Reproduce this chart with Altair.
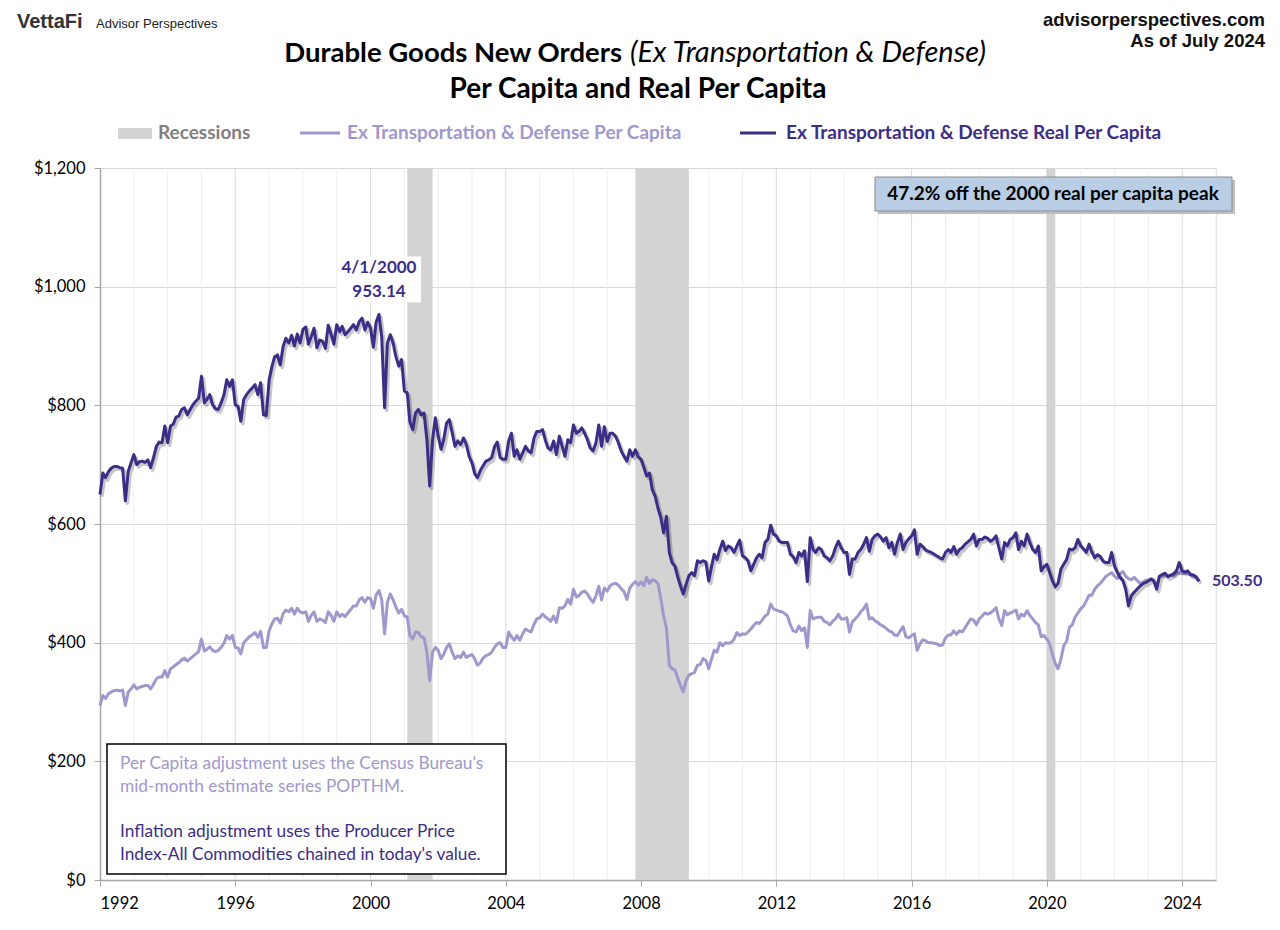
import altair as alt
import pandas as pd

# ---------------- data ----------------
START_MONTH = "1992-01-01"
END_MONTH = "2024-07-01"

# Ex Transportation & Defense Real Per Capita (monthly, 1992-01 .. 2024-07)
REAL = [
    650, 686, 678, 688, 694, 697, 697, 695, 694, 639, 689, 703,   # 1992
    717, 700, 705, 706, 704, 708, 695, 712, 731, 738, 737, 765,   # 1993
    737, 765, 768, 780, 782, 793, 796, 784, 793, 801, 807, 812,   # 1994
    849, 804, 810, 818, 801, 794, 793, 804, 818, 843, 832, 843,   # 1995
    801, 798, 773, 810, 818, 824, 829, 835, 818, 838, 784, 783,   # 1996
    843, 866, 882, 885, 868, 899, 913, 905, 918, 900, 920, 905,   # 1997
    928, 932, 903, 916, 930, 897, 910, 908, 896, 935, 920, 903,   # 1998
    936, 924, 933, 919, 924, 930, 936, 927, 941, 947, 927, 940,   # 1999
    930, 898, 940, 953.14, 915, 796, 905, 919, 905, 882, 866, 877,  # 2000
    824, 821, 772, 759, 787, 793, 784, 787, 742, 664, 742, 779,   # 2001
    748, 726, 742, 770, 776, 754, 731, 740, 734, 745, 734, 714,   # 2002
    703, 684, 678, 690, 698, 706, 708, 712, 730, 738, 712, 709,   # 2003
    709, 740, 753, 714, 725, 709, 720, 731, 723, 720, 745, 756,   # 2004
    756, 759, 742, 728, 725, 740, 717, 748, 731, 714, 742, 737,   # 2005
    767, 753, 756, 762, 753, 742, 728, 723, 737, 767, 731, 764,   # 2006
    739, 753, 753, 748, 737, 723, 714, 706, 725, 714, 725, 713,   # 2007
    709, 695, 681, 686, 658, 647, 627, 611, 585, 613, 552, 535,   # 2008
    529, 510, 496, 482, 498, 513, 518, 513, 538, 535, 538, 536,   # 2009
    504, 529, 549, 540, 557, 571, 555, 563, 560, 552, 563, 573,   # 2010
    546, 543, 538, 521, 532, 543, 549, 543, 569, 574, 598, 583,   # 2011
    580, 571, 569, 569, 569, 549, 545, 535, 552, 546, 555, 503,   # 2012
    577, 557, 552, 560, 557, 546, 543, 538, 546, 560, 571, 560,   # 2013
    552, 552, 515, 541, 541, 552, 557, 566, 577, 554, 574, 580,   # 2014
    583, 578, 571, 577, 560, 569, 549, 569, 583, 557, 569, 575,   # 2015
    580, 590, 549, 566, 562, 556, 554, 552, 549, 546, 543, 541,   # 2016
    552, 557, 552, 562, 549, 557, 560, 566, 570, 574, 583, 563,   # 2017
    574, 574, 578, 576, 571, 574, 580, 560, 541, 569, 563, 574,   # 2018
    577, 585, 557, 571, 563, 583, 569, 557, 552, 563, 521, 528,   # 2019
    532, 518, 504, 494, 500, 524, 532, 540, 558, 556, 560, 574,   # 2020
    563, 558, 552, 566, 553, 543, 548, 545, 537, 535, 535, 552,   # 2021
    529, 518, 510, 505, 490, 462, 479, 485, 490, 495, 499, 501,   # 2022
    504, 507, 504, 490, 512, 515, 517, 511, 514, 516, 521, 535,   # 2023
    521, 519, 521, 515, 514, 511, 503.5,                          # 2024
]

# Ex Transportation & Defense Per Capita (nominal, monthly)
NOMINAL = [
    294, 311, 306, 314, 317, 319, 320, 319, 320, 294, 317, 322,   # 1992
    329, 322, 325, 326, 328, 328, 322, 330, 339, 342, 342, 353,   # 1993
    342, 356, 359, 363, 366, 371, 374, 369, 373, 377, 381, 385,   # 1994
    406, 386, 389, 393, 387, 385, 387, 392, 399, 412, 406, 412,   # 1995
    392, 391, 381, 400, 405, 410, 413, 417, 409, 419, 392, 392,   # 1996
    420, 432, 440, 441, 433, 449, 455, 452, 458, 448, 458, 452,   # 1997
    450, 452, 436, 446, 452, 436, 440, 438, 434, 452, 446, 436,   # 1998
    452, 444, 448, 444, 450, 456, 462, 462, 472, 476, 468, 476,   # 1999
    474, 458, 480, 488, 472, 415, 468, 482, 472, 460, 450, 456,   # 2000
    445, 443, 412, 406, 418, 417, 410, 408, 384, 336, 384, 392,   # 2001
    387, 373, 380, 392, 398, 384, 373, 378, 375, 384, 375, 378,   # 2002
    380, 372, 362, 366, 374, 378, 380, 384, 392, 398, 400, 392,   # 2003
    392, 418, 410, 404, 412, 404, 415, 423, 420, 418, 431, 440,   # 2004
    442, 448, 444, 440, 436, 445, 434, 459, 458, 462, 473, 465,   # 2005
    490, 477, 479, 485, 487, 482, 474, 468, 479, 495, 472, 492,   # 2006
    487, 496, 499, 500, 497, 491, 486, 473, 492, 498, 503, 497,   # 2007
    502, 496, 510, 500, 506, 504, 500, 475, 445, 425, 362, 356,   # 2008
    354, 340, 328, 317, 336, 345, 348, 350, 362, 363, 373, 370,   # 2009
    356, 373, 387, 384, 400, 395, 400, 399, 400, 406, 417, 412,   # 2010
    415, 414, 418, 423, 429, 434, 432, 438, 445, 448, 465, 457,   # 2011
    455, 453, 452, 449, 445, 430, 420, 418, 428, 420, 425, 392,   # 2012
    454, 440, 442, 443, 443, 436, 434, 430, 436, 440, 448, 440,   # 2013
    440, 442, 418, 435, 440, 445, 452, 457, 465, 440, 442, 437,   # 2014
    434, 430, 428, 424, 420, 418, 413, 412, 420, 427, 410, 408,   # 2015
    412, 415, 387, 398, 405, 403, 400, 400, 399, 398, 395, 396,   # 2016
    408, 413, 413, 420, 414, 420, 418, 425, 433, 440, 438, 430,   # 2017
    440, 445, 450, 448, 450, 454, 459, 440, 429, 454, 447, 450,   # 2018
    452, 455, 440, 448, 445, 454, 446, 440, 434, 430, 410, 412,   # 2019
    406, 398, 380, 365, 356, 372, 395, 402, 426, 430, 443, 450,   # 2020
    457, 462, 470, 480, 480, 490, 496, 500, 506, 512, 515, 518,   # 2021
    512, 508, 516, 520, 512, 508, 506, 510, 505, 500, 502, 505,   # 2022
    506, 508, 506, 495, 512, 512, 514, 512, 514, 512, 516, 518,   # 2023
    516, 517, 517, 514, 512, 509, 503.5,                          # 2024
]

REC_START = ["2001-02-01", "2007-11-01", "2020-01-01"]
REC_END = ["2001-11-01", "2009-06-01", "2020-04-01"]

PEAK_DATE = "2000-04-01"
PEAK_VALUE = 953.14
PEAK_LABEL = ["4/1/2000", "953.14"]
LAST_LABEL = "503.50"

Y_TICKS = [0, 200, 400, 600, 800, 1000, 1200]
X_TICK_YEARS = list(range(1992, 2025, 4))
GRID_YEARS = list(range(1993, 2026))

TITLE_BOLD = "Durable Goods New Orders"
TITLE_ITALIC = "(Ex Transportation & Defense)"
TITLE_2 = "Per Capita and Real Per Capita"
LEG_REC = "Recessions"
LEG_NOM = "Ex Transportation & Defense Per Capita"
LEG_REAL = "Ex Transportation & Defense Real Per Capita"
BOX_TEXT = "47.2% off the 2000 real per capita peak"
NOTE_1 = ["Per Capita adjustment uses the Census Bureau's", "mid-month estimate series POPTHM."]
NOTE_2 = ["Inflation adjustment uses the Producer Price", "Index-All Commodities chained in today's value."]

# ---------------- styling ----------------
DARK = "#3c2d87"
LIGHT = "#a098cd"
REC = "#d3d3d3"
AXIS_GRAY = "#a6a6a6"
FONT = "Lato"
W, H = 1116, 712

months = pd.date_range(START_MONTH, END_MONTH, freq="MS").strftime("%Y-%m-%dT00:00:00").tolist()
df = pd.DataFrame({"date": months, "real": REAL, "nominal": NOMINAL})

x_scale = alt.Scale(domain=[alt.DateTime(year=1992, month=1, date=1),
                            alt.DateTime(year=2025, month=1, date=1)])
y_scale = alt.Scale(domain=[0, 1200], nice=False)

x_axis = alt.Axis(values=[alt.DateTime(year=y, month=1, date=1) for y in X_TICK_YEARS],
                  format="%Y", title=None, grid=False, labelFont=FONT, labelFontSize=16.5,
                  labelColor="#000", domainColor=AXIS_GRAY, tickColor=AXIS_GRAY,
                  tickSize=6, labelPadding=9, domainWidth=1.5)
y_axis = alt.Axis(values=Y_TICKS, format="$,.0f", title=None, grid=True, gridColor="#d9d9d9",
                  labelFont=FONT, labelFontSize=16.5, labelColor="#000", domainColor=AXIS_GRAY,
                  tickColor=AXIS_GRAY, tickSize=6, labelPadding=9, domainWidth=1.5)

X = alt.X("date:T", scale=x_scale, axis=x_axis)

# vertical grid
grid_df = pd.DataFrame({"date": [f"{y}-01-01T00:00:00" for y in GRID_YEARS],
                        "major": [y % 4 == 0 for y in GRID_YEARS]})
vgrid = alt.Chart(grid_df).mark_rule(strokeWidth=1).encode(
    x=alt.X("date:T", scale=x_scale, axis=x_axis),
    color=alt.Color("major:N", scale=alt.Scale(domain=[True, False], range=["#dadada", "#eeeeee"]), legend=None),
)

rec_df = pd.DataFrame({"start": [s + "T00:00:00" for s in REC_START],
                       "end": [e + "T00:00:00" for e in REC_END]})
recess = alt.Chart(rec_df).mark_rect(color=REC).encode(
    x=alt.X("start:T", scale=x_scale, axis=x_axis), x2="end:T")

nom_line = alt.Chart(df).mark_line(color=LIGHT, strokeWidth=3, strokeJoin="round").encode(
    x=X, y=alt.Y("nominal:Q", scale=y_scale, axis=y_axis))
real_shadow = alt.Chart(df).mark_line(color="#000000", opacity=0.22, strokeWidth=3.5,
                                      strokeJoin="round", xOffset=2, yOffset=2.5).encode(
    x=X, y=alt.Y("real:Q", scale=y_scale, axis=y_axis))
real_line = alt.Chart(df).mark_line(color=DARK, strokeWidth=3, strokeJoin="round").encode(
    x=X, y=alt.Y("real:Q", scale=y_scale, axis=y_axis))

# peak annotation
peak_df = pd.DataFrame({"date": [PEAK_DATE + "T00:00:00"], "value": [PEAK_VALUE],
                        "l1": [PEAK_LABEL[0]], "l2": [PEAK_LABEL[1]]})
peak_box = alt.Chart(peak_df).mark_rect(color="white", xOffset=-42, x2Offset=42,
                                         yOffset=-58, y2Offset=-12).encode(
    x=X, x2="date:T", y=alt.Y("value:Q", scale=y_scale, axis=y_axis), y2="value:Q")
peak_t1 = alt.Chart(peak_df).mark_text(font=FONT, fontSize=17, fontWeight="bold", color=DARK,
                                        dy=-46, baseline="middle").encode(
    x=X, y=alt.Y("value:Q", scale=y_scale, axis=y_axis), text="l1:N")
peak_t2 = alt.Chart(peak_df).mark_text(font=FONT, fontSize=17, fontWeight="bold", color=DARK,
                                        dy=-22, baseline="middle").encode(
    x=X, y=alt.Y("value:Q", scale=y_scale, axis=y_axis), text="l2:N")

last_df = df.tail(1).assign(lbl=LAST_LABEL)
last_t = alt.Chart(last_df).mark_text(font=FONT, fontSize=16, fontWeight="bold", color=DARK,
                                       dx=13, align="left", baseline="middle").encode(
    x=X, y=alt.Y("real:Q", scale=y_scale, axis=y_axis), text="lbl:N")


def one():
    return alt.Chart(pd.DataFrame({"k": [0]}))


def text(s, x, y, size, color, weight="normal", align="left", font=FONT, style="normal",
         baseline="alphabetic"):
    return one().mark_text(text=s, font=font, fontSize=size, color=color, fontWeight=weight,
                           align=align, fontStyle=style, baseline=baseline).encode(
        x=alt.value(x), y=alt.value(y))


def box(x1, y1, x2, y2, fill, stroke=None, sw=1, opacity=1.0):
    kw = dict(fill=fill, opacity=opacity)
    if stroke:
        kw.update(stroke=stroke, strokeWidth=sw)
    return one().mark_rect(**kw).encode(x=alt.value(x1), x2=alt.value(x2),
                                        y=alt.value(y1), y2=alt.value(y2))


def seg(x1, x2, y, color, sw=3):
    return one().mark_rule(color=color, strokeWidth=sw).encode(
        x=alt.value(x1), x2=alt.value(x2), y=alt.value(y))


# page coordinates -> plot coordinates: subtract (100, 168)
layers = [
    vgrid, recess, nom_line, real_shadow, real_line, peak_box, peak_t1, peak_t2, last_t,
    # header
    text("VettaFi", -83, -140, 20, "#333333", "bold", font="Liberation Sans"),
    text("Advisor Perspectives", -4, -140, 13, "#222222", font="Liberation Sans"),
    text("advisorperspectives.com", 1165, -142, 18.5, "#111111", "bold", "right", font="Liberation Sans"),
    text("As of July 2024", 1165, -121, 18.5, "#111111", "bold", "right", font="Liberation Sans"),
    # titles
    text(TITLE_BOLD, 522, -106, 27.5, "#000000", "bold", "right"),
    text(TITLE_ITALIC, 530, -106, 29, "#000000", "normal", "left", style="italic"),
    text(TITLE_2, 538, -70, 28, "#000000", "bold", "center"),
    # legend
    box(18, -40, 52, -29, REC),
    text(LEG_REC, 58, -35, 19, "#808080", "bold", baseline="middle"),
    seg(200, 240, -35, LIGHT),
    text(LEG_NOM, 247, -35, 19, LIGHT, "bold", baseline="middle"),
    seg(640, 676, -35, DARK),
    text(LEG_REAL, 686, -35, 19, DARK, "bold", baseline="middle"),
    # blue callout
    box(778, 12, 1135, 46, "#bfbfbf"),
    box(775, 9, 1132, 43, "#b9cde5", "#8c8c8c", 1),
    text(BOX_TEXT, 953, 26, 19, "#000000", "bold", "center", baseline="middle"),
    # footnote
    box(7, 576, 406, 706, "white", "#000000", 1.5),
    text(NOTE_1[0], 20, 601, 17.3, LIGHT),
    text(NOTE_1[1], 20, 624, 17.3, LIGHT),
    text(NOTE_2[0], 20, 669, 17.3, DARK),
    text(NOTE_2[1], 20, 692, 17.3, DARK),
]

chart = alt.layer(*layers).properties(
    width=W, height=H,
    autosize=alt.AutoSizeParams(type="none"),
    padding={"left": 92, "top": 160, "right": 56, "bottom": 42},
).configure_view(stroke=None).configure(background="white")

chart.save("out.html", embed_options={"renderer": "svg", "actions": False})
